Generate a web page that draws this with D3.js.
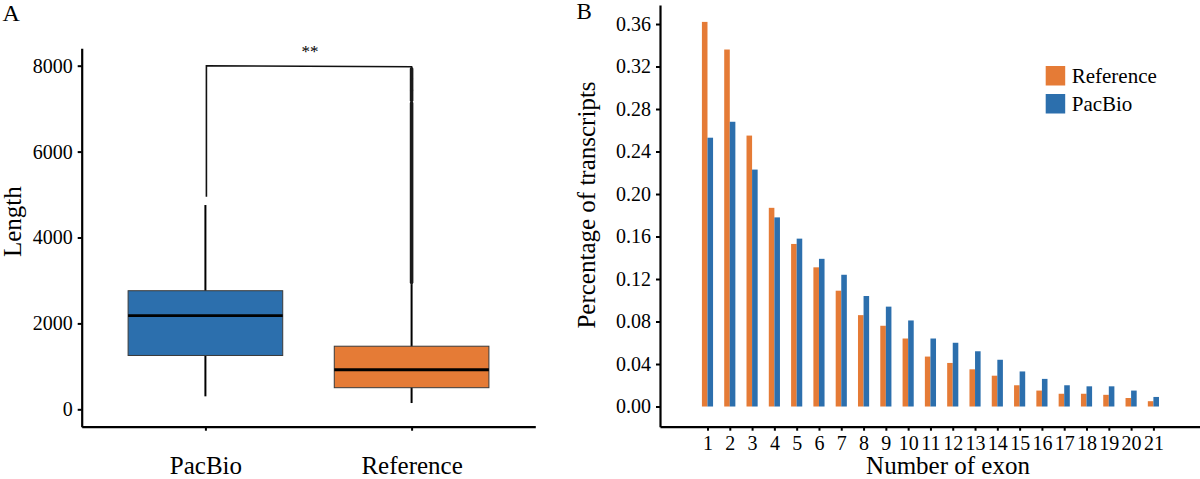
<!DOCTYPE html>
<html>
<head>
<meta charset="utf-8">
<script src="https://cdn.jsdelivr.net/npm/d3@7"></script>
<style>
	body { margin: 0; background: #fff; }
	text { font-family: 'Liberation Serif', 'Times New Roman', serif; fill: #000; }
</style>
</head>
<body>
<div id="chart"></div>
<script>
// Panel A: transcript length box plots
const boxCats = ['PacBio', 'Reference']
const boxLow = [302, 146]
const boxQ1 = [1253, 503]
const boxMed = [2181, 921]
const boxQ3 = [2761, 1469]
const boxHigh = [4756, 2916]
// runs of overlapping outlier dots above the Reference whisker [from, to]
const refOutlierRuns = [[2950, 7130], [7190, 7420], [7440, 7680], [7700, 7930]]
const lengthTicks = [0, 2000, 4000, 6000, 8000]
// significance bracket: height, left tip end, right tip end
const signifY = 8000
const signifTips = [4950, 7950]

// Panel B: share of transcripts by exon count
const exons = [1, 2, 3, 4, 5, 6, 7, 8, 9, 10, 11, 12, 13, 14, 15, 16, 17, 18, 19, 20, 21]
const refShare = [0.362, 0.336, 0.255, 0.187, 0.153, 0.131, 0.109, 0.086, 0.076, 0.064, 0.047,
	0.041, 0.035, 0.029, 0.020, 0.015, 0.012, 0.012, 0.011, 0.008, 0.005]
const pacShare = [0.253, 0.268, 0.223, 0.178, 0.158, 0.139, 0.124, 0.104, 0.094, 0.081, 0.064,
	0.060, 0.052, 0.044, 0.033, 0.026, 0.020, 0.019, 0.019, 0.015, 0.009]
const shareTicks = [0, 0.04, 0.08, 0.12, 0.16, 0.20, 0.24, 0.28, 0.32, 0.36]
const legendNames = ['Reference', 'PacBio']

const blue = '#2c6fad'
const orange = '#e57b36'

const svg = d3
	.select('#chart')
	.append('svg')
	.attr('width', 1200)
	.attr('height', 479)

function styleAxis(g, size) {
	g.select('.domain').attr('stroke', '#000').attr('stroke-width', 2.2)
	g.selectAll('.tick line').attr('stroke', '#000').attr('stroke-width', 2)
	g.selectAll('.tick text').style('font-size', size + 'px').attr('fill', '#000')
}

// ---------- Panel A ----------
function drawBoxPlot() {
	const left = 81.7
	const bottom = 426.7

	const x = d3.scalePoint().domain(boxCats).range([left, 535.3]).padding(0.6)
	const y = d3.scaleLinear().domain([-405, 8405]).range([bottom, 48.3])
	const boxW = x.step() * 0.75

	svg
		.append('g')
		.attr('transform', `translate(${left},0)`)
		.call(
			d3
				.axisLeft(y)
				.tickValues(lengthTicks)
				.tickFormat(d3.format('d'))
				.tickSize(4)
				.tickPadding(5)
				.tickSizeOuter(0)
		)
		.call((g) => styleAxis(g, 20))

	svg
		.append('g')
		.attr('transform', `translate(0,${bottom})`)
		.call(d3.axisBottom(x).tickSize(4).tickPadding(26).tickSizeOuter(0))
		.call((g) => styleAxis(g, 25))

	const boxes = svg
		.selectAll('.box')
		.data(boxCats)
		.enter()
		.append('g')
		.attr('class', 'box')

	// whiskers
	boxes
		.append('line')
		.attr('x1', (d) => x(d))
		.attr('x2', (d) => x(d))
		.attr('y1', (d, i) => y(boxLow[i]))
		.attr('y2', (d, i) => y(boxHigh[i]))
		.attr('stroke', '#000')
		.attr('stroke-width', 2)

	boxes
		.append('rect')
		.attr('x', (d) => x(d) - boxW / 2)
		.attr('width', boxW)
		.attr('y', (d, i) => y(boxQ3[i]))
		.attr('height', (d, i) => y(boxQ1[i]) - y(boxQ3[i]))
		.attr('fill', (d, i) => (i === 0 ? blue : orange))
		.attr('stroke', '#3a3a3a')
		.attr('stroke-width', 1)

	boxes
		.append('line')
		.attr('x1', (d) => x(d) - boxW / 2)
		.attr('x2', (d) => x(d) + boxW / 2)
		.attr('y1', (d, i) => y(boxMed[i]))
		.attr('y2', (d, i) => y(boxMed[i]))
		.attr('stroke', '#000')
		.attr('stroke-width', 2.8)

	// outliers, drawn as stacks of overlapping dots
	svg
		.selectAll('.outlier')
		.data(refOutlierRuns)
		.enter()
		.append('line')
		.attr('class', 'outlier')
		.attr('x1', x('Reference'))
		.attr('x2', x('Reference'))
		.attr('y1', (d) => y(d[0]))
		.attr('y2', (d) => y(d[1]))
		.attr('stroke', '#1a1a1a')
		.attr('stroke-width', 3.6)
		.attr('stroke-linecap', 'round')

	// significance bracket
	const bx1 = x('PacBio') + 1
	const bx2 = x('Reference')
	svg
		.append('path')
		.attr('d', `M${bx1},${y(signifTips[0])}V${y(signifY)}L${bx2},${y(signifY) + 1}V${y(signifTips[1])}`)
		.attr('fill', 'none')
		.attr('stroke', '#111')
		.attr('stroke-width', 1.6)

	svg
		.append('text')
		.attr('x', (bx1 + bx2) / 2 + 1)
		.attr('y', 56.5)
		.attr('text-anchor', 'middle')
		.style('font-size', '17px')
		.attr('fill', '#444')
		.text('**')

	svg
		.append('text')
		.attr('transform', 'translate(21,221.7) rotate(-90)')
		.attr('text-anchor', 'middle')
		.style('font-size', '25px')
		.text('Length')

	svg.append('text').attr('x', 2.5).attr('y', 20.7).style('font-size', '24px').text('A')
}

// ---------- Panel B ----------
function drawBarChart() {
	const left = 660
	const bottom = 426.7

	const x = d3.scaleLinear().domain([-1.13, 23.09]).range([left, 1200])
	const y = d3.scaleLinear().domain([-0.019, 0.3779]).range([bottom, 5])
	const barW = x(1.25) - x(1)

	svg
		.append('g')
		.attr('transform', `translate(${left},0)`)
		.call(
			d3
				.axisLeft(y)
				.tickValues(shareTicks)
				.tickFormat(d3.format('.2f'))
				.tickSize(4)
				.tickPadding(5)
				.tickSizeOuter(0)
		)
		.call((g) => styleAxis(g, 20))

	svg
		.append('g')
		.attr('transform', `translate(0,${bottom})`)
		.call(d3.axisBottom(x).tickValues(exons).tickFormat(d3.format('d')).tickSize(4).tickPadding(5).tickSizeOuter(0))
		.call((g) => styleAxis(g, 20))

	svg
		.selectAll('.bar-ref')
		.data(exons)
		.enter()
		.append('rect')
		.attr('class', 'bar-ref')
		.attr('x', (d) => x(d) - barW)
		.attr('width', barW)
		.attr('y', (d, i) => y(refShare[i]))
		.attr('height', (d, i) => y(0) - y(refShare[i]))
		.attr('fill', orange)

	svg
		.selectAll('.bar-pac')
		.data(exons)
		.enter()
		.append('rect')
		.attr('class', 'bar-pac')
		.attr('x', (d) => x(d))
		.attr('width', barW)
		.attr('y', (d, i) => y(pacShare[i]))
		.attr('height', (d, i) => y(0) - y(pacShare[i]))
		.attr('fill', blue)

	// legend
	const legend = svg
		.selectAll('.legend')
		.data(legendNames)
		.enter()
		.append('g')
		.attr('class', 'legend')
		.attr('transform', (d, i) => `translate(1045.7,${66 + i * 28})`)

	legend
		.append('rect')
		.attr('width', 19.5)
		.attr('height', 19.5)
		.attr('fill', (d, i) => (i === 0 ? orange : blue))

	legend
		.append('text')
		.attr('x', 26)
		.attr('y', 9.8)
		.attr('dy', '0.34em')
		.style('font-size', '21px')
		.text((d) => d)

	svg
		.append('text')
		.attr('transform', 'translate(595,205) rotate(-90)')
		.attr('text-anchor', 'middle')
		.style('font-size', '25px')
		.text('Percentage of transcripts')

	svg
		.append('text')
		.attr('x', 948)
		.attr('y', 474)
		.attr('text-anchor', 'middle')
		.style('font-size', '25px')
		.text('Number of exon')

	svg.append('text').attr('x', 576.5).attr('y', 18.5).style('font-size', '23px').text('B')
}

drawBoxPlot()
drawBarChart()
</script>
</body>
</html>
